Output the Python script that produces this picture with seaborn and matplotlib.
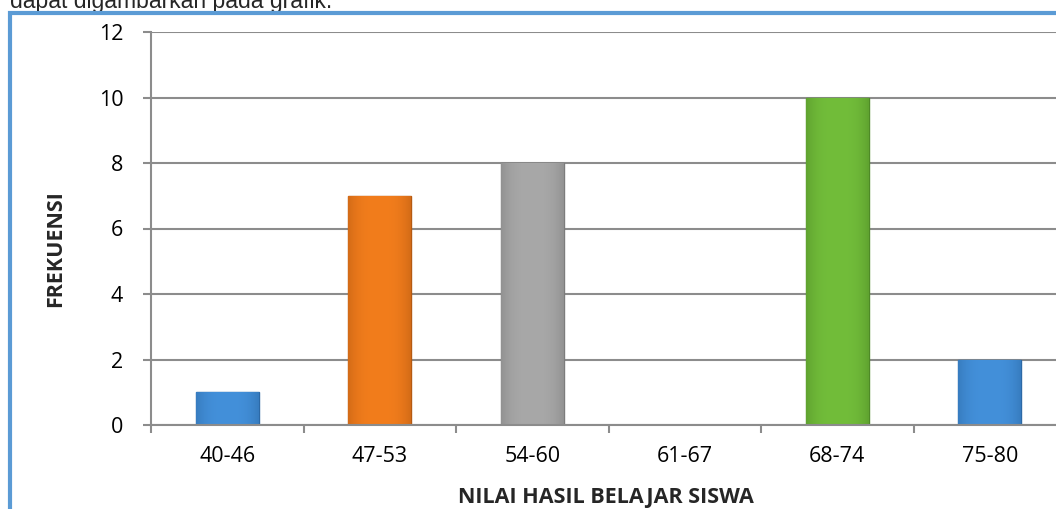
import matplotlib.pyplot as plt
import seaborn as sns
import pandas as pd
import numpy as np
from matplotlib.patches import Rectangle
from matplotlib.colors import to_rgb

sns.set_theme(style="white")
plt.rcParams['font.family'] = ['Open Sans', 'DejaVu Sans']

# data
categories = ['40-46', '47-53', '54-60', '61-67', '68-74', '75-80']
frekuensi = [1, 7, 8, 0, 10, 2]
bar_colors = ['#4390DA', '#F27D1C', '#A8A8A8', '#4390DA', '#72BD3A', '#4390DA']
edge_colors = ['#2C69A6', '#B55A12', '#7C7C7C', '#2C69A6', '#4E8A26', '#2C69A6']
yticks = [0, 2, 4, 6, 8, 10, 12]

df = pd.DataFrame({'Nilai': categories, 'Frekuensi': frekuensi})

W, H = 1056, 509
fig = plt.figure(figsize=(W / 100, H / 100), dpi=100)
fig.patch.set_facecolor('white')

# axes: left 151px, top 32px, zero line 425px, category width ~152.5px
left, top, bottom = 151, 32, 425
width = 6 * 152.5
ax = fig.add_axes([left / W, 1 - bottom / H, width / W, (bottom - top) / H])

sns.barplot(data=df, x='Nilai', y='Frekuensi', hue='Nilai', palette=bar_colors,
            legend=False, width=0.41, ax=ax, saturation=1)

# soft bevel look: darker sides, lighter centre, clipped to each bar
for patch, col, ec in zip(ax.patches, bar_colors, edge_colors):
    patch.set_edgecolor(ec)
    patch.set_linewidth(1.0)
    h = patch.get_height()
    if h <= 0:
        continue
    x0, w = patch.get_x(), patch.get_width()
    base = np.array(to_rgb(col))
    dark = np.array(to_rgb(ec))
    t = np.linspace(-1, 1, 64)
    shade = np.abs(t) ** 3
    row = base[None, :] * (1 - 0.5 * shade[:, None]) + dark[None, :] * (0.5 * shade[:, None])
    img = np.repeat(row[None, :, :], 2, axis=0)
    im = ax.imshow(img, extent=(x0, x0 + w, 0, h), aspect='auto', zorder=patch.get_zorder() + 0.1,
                   interpolation='bilinear', origin='lower')
    im.set_clip_path(patch)
ax.set_aspect('auto')

ax.set_ylim(0, 12)
ax.set_xlim(-0.5, 5.5)
ax.set_yticks(yticks)
ax.set_yticklabels([str(v) for v in yticks], fontsize=15.5, color='black')
ax.set_xticks(range(len(categories)))
ax.set_xticklabels(categories, fontsize=15.5, color='black')
ax.set_xticks(np.arange(-0.5, 6, 1), minor=True)
ax.tick_params(axis='x', which='major', length=0, pad=15)
ax.tick_params(axis='x', which='minor', length=6, width=1.5, color='#8C8C8C', bottom=True)
ax.tick_params(axis='y', which='major', length=6, width=1.5, color='#8C8C8C', left=True, pad=14)
ax.set_xlabel('')
ax.set_ylabel('')

ax.yaxis.grid(True, color='#8C8C8C', linewidth=1.5)
ax.set_axisbelow(True)
for side in ['top', 'right']:
    ax.spines[side].set_visible(False)
for side in ['left', 'bottom']:
    ax.spines[side].set_color('#8C8C8C')
    ax.spines[side].set_linewidth(1.5)

# axis titles
fig.text(606 / W, 1 - 497 / H, 'NILAI HASIL BELAJAR SISWA', ha='center', va='center',
         fontsize=15.5, fontweight='bold')
fig.text(56 / W, 1 - 249 / H, 'FREKUENSI', ha='center', va='center', rotation=90,
         fontsize=15.5, fontweight='bold')

# blue chart frame
fig.patches.append(Rectangle((9.5 / W, -0.05), 1.1, 1 - 12.5 / H + 0.05, transform=fig.transFigure,
                             fill=False, edgecolor='#5B9BD5', linewidth=3, zorder=5))

# surrounding document text (cut off at top in the source)
fig.text(10 / W, 1 - 8 / H, 'dapat digambarkan pada grafik.', ha='left', va='baseline',
         fontsize=16.5, family=['Liberation Sans', 'DejaVu Sans'])

fig.savefig('out.png', dpi=100)
